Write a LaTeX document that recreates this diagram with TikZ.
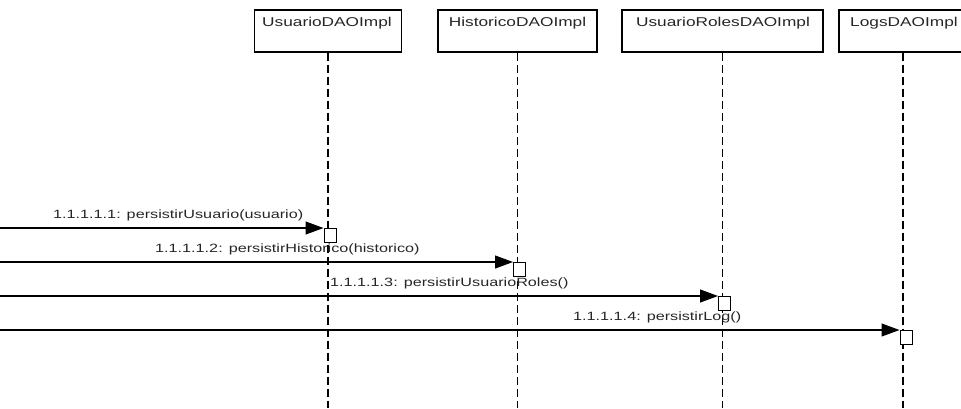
\documentclass[tikz,border=0pt]{standalone}
\usepackage{fontspec}
\setmainfont{Liberation Sans}[FakeStretch=1.35]
\usetikzlibrary{arrows.meta}
\begin{document}
\begin{tikzpicture}[x=1pt,y=-1pt,
  objbox/.style={draw, line width=1.2pt, minimum height=42pt, inner sep=0pt},
  objname/.style={anchor=base, inner sep=0pt, font=\fontsize{12.8}{15}\selectfont, text=black!85},
  lifeline/.style={line width=1.2pt, dash pattern=on 8pt off 4pt},
  actbox/.style={draw, line width=1.2pt, fill=white, minimum width=12pt, minimum height=14pt, inner sep=0pt, anchor=north west},
  msg/.style={line width=1.1pt, -{Triangle[length=18pt,width=13pt]}},
  msglabel/.style={anchor=base west, inner sep=0pt, font=\fontsize{12}{14}\selectfont, text=black!85}]
  \useasboundingbox (0,0) rectangle (961,408);
  \clip (0,0) rectangle (961,408);
  \coordinate (bot) at (0,408);

  % object boxes
  \node[objbox, minimum width=147pt] (u)  at (328,31) {};
  \node[objbox, minimum width=159pt] (h)  at (517.5,31) {};
  \node[objbox, minimum width=201pt] (ur) at (722.5,31) {};
  \node[objbox, minimum width=128pt] (l)  at (903,31) {};
  \node[objname] (un)  at (327,26) {UsuarioDAOImpl};
  \node[objname] (hn)  at (517.5,26) {HistoricoDAOImpl};
  \node[objname] (urn) at (723,26) {UsuarioRolesDAOImpl};
  \node[objname] (ln)  at (904,26) {LogsDAOImpl};

  % lifelines
  \draw[lifeline] (u.south)  -- (u.south |- bot);
  \draw[lifeline] (h.south)  -- (h.south |- bot);
  \draw[lifeline] (ur.south) -- (ur.south |- bot);
  \draw[lifeline] (l.south)  -- (l.south |- bot);

  % activations
  \node[actbox] (a1) at (323.5,228) {};
  \node[actbox] (a2) at (513,262) {};
  \node[actbox] (a3) at (718,296) {};
  \node[actbox] (a4) at (899.5,330) {};

  % messages
  \coordinate (s1) at (0,228);
  \coordinate (s2) at (0,262);
  \coordinate (s3) at (0,296);
  \coordinate (s4) at (0,330);
  \draw[msg] (s1) -- (a1.north west);
  \draw[msg] (s2) -- (a2.north west);
  \draw[msg] (s3) -- (a3.north west);
  \draw[msg] (s4) -- (a4.north west);

  \node[msglabel] (m1) at (53,218)  {1.1.1.1.1: persistirUsuario(usuario)};
  \node[msglabel] (m2) at (155,252) {1.1.1.1.2: persistirHistorico(historico)};
  \node[msglabel] (m3) at (330,286) {1.1.1.1.3: persistirUsuarioRoles()};
  \node[msglabel] (m4) at (573,320) {1.1.1.1.4: persistirLog()};
\end{tikzpicture}
\end{document}
